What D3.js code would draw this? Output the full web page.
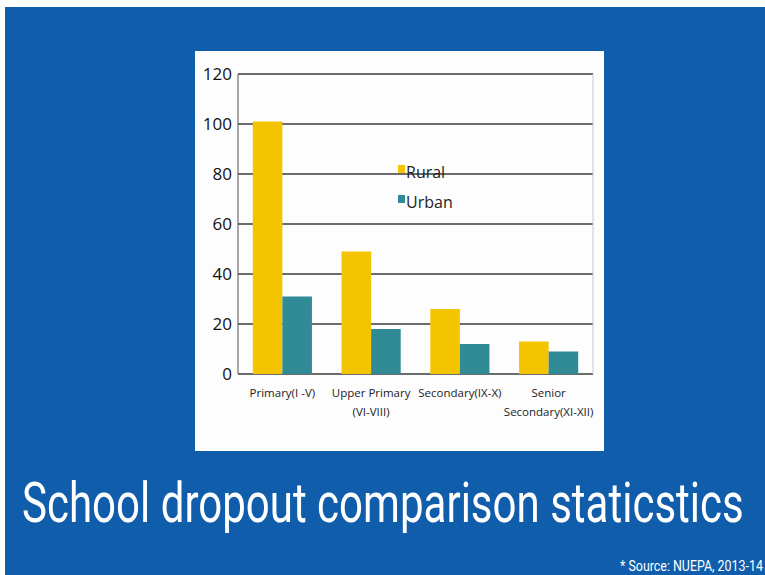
<!DOCTYPE html>
<html>
<head>
<meta charset="utf-8">
<script src="https://cdn.jsdelivr.net/npm/d3@7"></script>
<style>
  body { margin: 0; background: #fff; }
  svg { display: block; }
</style>
</head>
<body>
<script>
// chart data
const categories = [["Primary(I -V)"], ["Upper Primary", "(VI-VIII)"], ["Secondary(IX-X)"], ["Senior", "Secondary(XI-XII)"]];
const seriesNames = ["Rural", "Urban"];
const rural = [101, 49, 26, 13];
const urban = [31, 18, 12, 9];
const yTicks = [0, 20, 40, 60, 80, 100, 120];
const title = "School dropout comparison staticstics";
const source = "* Source: NUEPA, 2013-14";

const colors = { Rural: "#f5c400", Urban: "#318b96" };

const W = 765, H = 575;
const svg = d3.select("body").append("svg")
    .attr("width", W)
    .attr("height", H);

// blue slide background
svg.append("rect").attr("x", 5).attr("y", 7).attr("width", W - 5).attr("height", H - 7).attr("fill", "#0f5dab");

// white chart panel
svg.append("rect").attr("x", 195).attr("y", 51).attr("width", 409).attr("height", 400).attr("fill", "#fdfdfe");

const plot = { left: 238, right: 593, top: 74, bottom: 374 };

const x0 = d3.scaleBand()
    .domain(d3.range(categories.length))
    .range([plot.left, plot.right])
    .paddingInner(1 / 3)
    .paddingOuter(1 / 6);
const x1 = d3.scaleBand()
    .domain(seriesNames)
    .range([0, x0.bandwidth()]);
const y = d3.scaleLinear().domain([0, 120]).range([plot.bottom, plot.top]);

// gridlines
svg.append("g")
    .selectAll("line")
    .data(yTicks)
    .join("line")
    .attr("x1", plot.left).attr("x2", plot.right)
    .attr("y1", d => y(d)).attr("y2", d => y(d))
    .attr("stroke", "#3a3a3a")
    .attr("stroke-width", 1.3);

// left axis line and faint right edge
svg.append("line").attr("x1", plot.left).attr("x2", plot.left).attr("y1", plot.top).attr("y2", plot.bottom)
    .attr("stroke", "#555").attr("stroke-width", 1);
svg.append("line").attr("x1", plot.right).attr("x2", plot.right).attr("y1", plot.top).attr("y2", plot.bottom)
    .attr("stroke", "#b8c8e0").attr("stroke-width", 1);

// y axis labels
const yAxis = d3.axisLeft(y).tickValues(yTicks).tickSize(0).tickPadding(6);
const yg = svg.append("g").attr("transform", `translate(${plot.left},0)`).call(yAxis);
yg.select(".domain").remove();
yg.selectAll("text")
    .attr("font-family", "Open Sans, sans-serif")
    .attr("font-size", 17)
    .attr("fill", "#111");

// bars
const rows = categories.map((c, i) => ({ i, Rural: rural[i], Urban: urban[i] }));
svg.append("g")
    .selectAll("g")
    .data(rows)
    .join("g")
    .attr("transform", d => `translate(${x0(d.i)},0)`)
    .selectAll("rect")
    .data(d => seriesNames.map(k => ({ key: k, value: d[k] })))
    .join("rect")
    .attr("x", d => x1(d.key))
    .attr("width", x1.bandwidth())
    .attr("y", d => y(d.value))
    .attr("height", d => y(0) - y(d.value))
    .attr("fill", d => colors[d.key]);

// x labels
const xl = svg.append("g")
    .selectAll("text")
    .data(categories)
    .join("text")
    .attr("x", (d, i) => x0(i) + x0.bandwidth() / 2)
    .attr("y", 397)
    .attr("text-anchor", "middle")
    .attr("font-family", "Open Sans, sans-serif")
    .attr("font-size", 11.5)
    .attr("fill", "#222");
xl.selectAll("tspan")
    .data(d => d)
    .join("tspan")
    .attr("x", function() { return this.parentNode.getAttribute("x"); })
    .attr("dy", (d, i) => i === 0 ? 0 : 19)
    .text(d => d);

// legend
const legend = svg.append("g").attr("transform", "translate(398,165)");
seriesNames.forEach((s, i) => {
  const g = legend.append("g").attr("transform", `translate(0,${i * 30})`);
  g.append("rect").attr("width", 7).attr("height", 8).attr("fill", colors[s]);
  g.append("text").attr("x", 8).attr("y", 13)
      .attr("font-family", "Open Sans, sans-serif")
      .attr("font-size", 16)
      .attr("fill", "#222")
      .text(s);
});

// condensed text: squeeze horizontally to a target width
function condensed(x, yPos, size, width, str) {
  const t = svg.append("text")
      .attr("font-family", "Roboto, sans-serif")
      .attr("font-size", size)
      .attr("fill", "#fff")
      .text(str);
  const natural = t.node().getComputedTextLength();
  t.attr("transform", `translate(${x},${yPos}) scale(${width / natural},1)`);
  return t;
}

condensed(22, 522, 56, 722, title);
condensed(620, 571, 15, 143, source);
</script>
</body>
</html>
